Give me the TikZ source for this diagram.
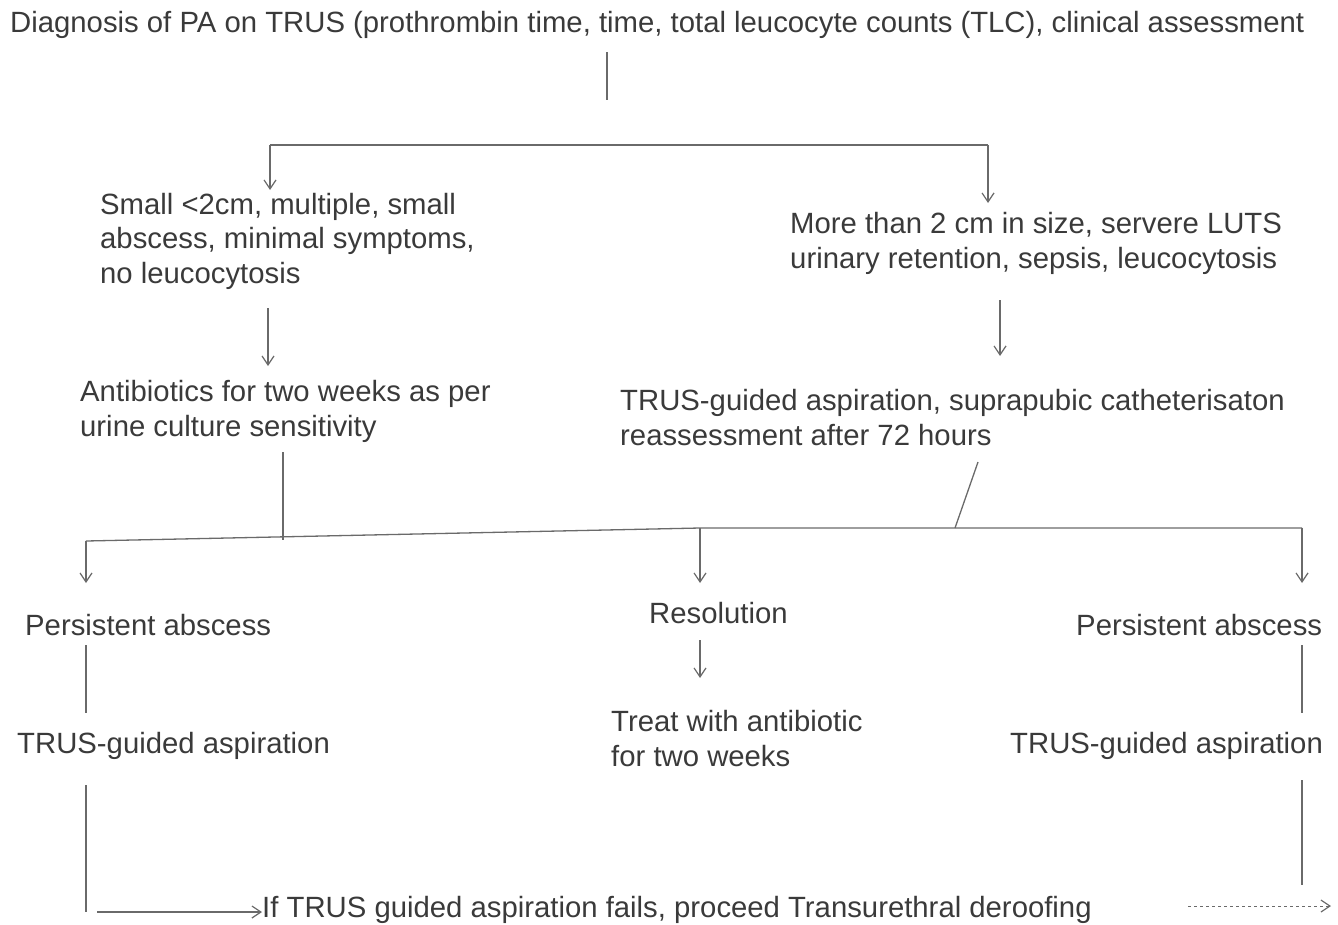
\documentclass[tikz,border=0pt]{standalone}
\usepackage{fontspec}
\setmainfont{Liberation Sans}
\usetikzlibrary{arrows.meta}

\definecolor{txtgray}{HTML}{3A3A3A}
\definecolor{lngray}{HTML}{6A6A6A}

\tikzset{
  txt/.style={anchor=base west, inner sep=0pt, align=left, text=txtgray,
    font=\fontsize{29.3}{34.5}\selectfont},
  ln/.style={draw=lngray, line width=1.3pt},
  arr/.style={ln, -{Straight Barb[length=9pt,width=12pt,line width=1.2pt]}}
}

\begin{document}
\begin{tikzpicture}[x=1pt,y=-1pt]
  \useasboundingbox (0,0) rectangle (1338,924);
  % texts (base = baseline of the last line)
  \node[txt, name=diag] at (10,32) {Diagnosis of PA on TRUS (prothrombin time, time, total leucocyte counts (TLC), clinical assessment};
  \node[txt, name=small] at (100,283) {Small <2cm, multiple, small\\abscess, minimal symptoms,\\no leucocytosis};
  \node[txt, name=large] at (790,268) {More than 2 cm in size, servere LUTS\\urinary retention, sepsis, leucocytosis};
  \node[txt, name=anti] at (80,436) {Antibiotics for two weeks as per\\urine culture sensitivity};
  \node[txt, name=aspir] at (620,445) {TRUS-guided aspiration, suprapubic catheterisaton\\reassessment after 72 hours};
  \node[txt, name=persL] at (25,635) {Persistent abscess};
  \node[txt, name=resol] at (649,623) {Resolution};
  \node[txt, name=persR] at (1076,635) {Persistent abscess};
  \node[txt, name=treat] at (611,766) {Treat with antibiotic\\for two weeks};
  \node[txt, name=trusL] at (17,753) {TRUS-guided aspiration};
  \node[txt, name=trusR] at (1010,753) {TRUS-guided aspiration};
  \node[txt, name=fails] at (262,917) {If TRUS guided aspiration fails, proceed Transurethral deroofing};

  % junction points
  \coordinate (d1) at (607,52);
  \coordinate (d2) at (607,100);
  \coordinate (bl) at (270,145);
  \coordinate (br) at (988,145);
  \coordinate (sl) at (270,190);
  \coordinate (sr) at (988,203);
  \coordinate (a1) at (268,308);
  \coordinate (a2) at (268,366);
  \coordinate (a3) at (1000,300);
  \coordinate (a4) at (1000,356);
  \coordinate (v1) at (283,452);
  \coordinate (v2) at (283,540);
  \coordinate (g1) at (978,462);
  \coordinate (g2) at (955,528);
  \coordinate (h1) at (86,541);
  \coordinate (h2) at (700,528);
  \coordinate (h3) at (1302,528);
  \coordinate (e1) at (86,583);
  \coordinate (e2) at (700,583);
  \coordinate (e3) at (1302,583);
  \coordinate (r1) at (700,640);
  \coordinate (r2) at (700,678);
  \coordinate (p1) at (86,645);
  \coordinate (p2) at (86,713);
  \coordinate (p3) at (1302,645);
  \coordinate (p4) at (1302,713);
  \coordinate (q1) at (86,785);
  \coordinate (q2) at (86,912);
  \coordinate (q3) at (1302,780);
  \coordinate (q4) at (1302,885);
  \coordinate (f1) at (97,912);
  \coordinate (f2) at (1188,906);
  \coordinate (f3) at (1331,906);

  % connectors
  \draw[ln] (d1) -- (d2);
  \draw[ln] (bl) -- (br);
  \draw[arr] (bl) -- (sl);
  \draw[arr] (br) -- (sr);
  \draw[arr] (a1) -- (a2);
  \draw[arr] (a3) -- (a4);
  \draw[ln] (v1) -- (v2);
  \draw[ln] (g1) -- (g2);
  \draw[ln] (h1) -- (h2) -- (h3);
  \draw[arr] (h1) -- (e1);
  \draw[arr] (h2) -- (e2);
  \draw[arr] (h3) -- (e3);
  \draw[arr] (r1) -- (r2);
  \draw[ln] (p1) -- (p2);
  \draw[ln] (p3) -- (p4);
  \draw[ln] (q1) -- (q2);
  \draw[ln] (q3) -- (q4);
  \draw[arr] (f1) -- (fails.west |- f1);
  \draw[arr, line width=1pt, dashed] (f2) -- (f3);
\end{tikzpicture}
\end{document}
